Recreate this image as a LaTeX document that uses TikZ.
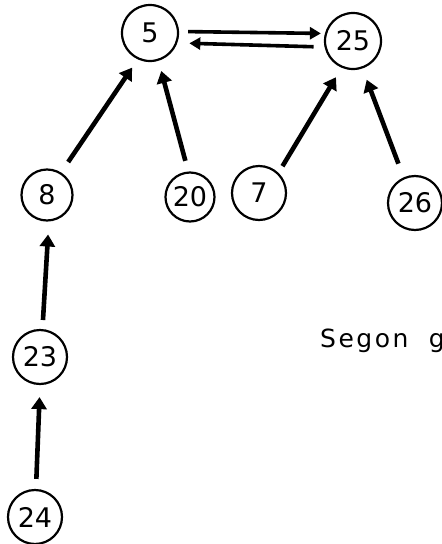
\documentclass[tikz,border=0pt]{standalone}
\usepackage{fontspec}
\setmainfont{DejaVu Sans}
\usetikzlibrary{arrows.meta}
\tikzset{
  vtx/.style={draw, circle, line width=2.2pt, inner sep=0pt, minimum size=#1, font=\fontsize{27}{27}\selectfont},
  arr/.style={line width=4.6pt, -{Triangle[width=15pt,length=12pt]}},
  arrs/.style={line width=3.6pt, -{Triangle[width=12pt,length=11pt]}},
  lbl/.style={anchor=base west, inner sep=0pt, font=\fontsize{25}{25}\selectfont\addfontfeature{LetterSpace=10}}
}
\begin{document}
\begin{tikzpicture}[x=1pt,y=-1pt]
\useasboundingbox (0,0) rectangle (442,544);
\node[vtx=56pt] (n5)  at (150,33)  {5};
\node[vtx=56pt] (n25) at (353,41)  {25};
\node[vtx=51pt] (n8)  at (47,195)  {8};
\node[vtx=49pt] (n20) at (190,197) {20};
\node[vtx=54pt] (n7)  at (259,193) {7};
\node[vtx=54pt] (n26) at (415,203) {26};
\node[vtx=54pt] (n23) at (40,357)  {23};
\node[vtx=54pt] (n24) at (35,517)  {24};
\node[lbl] (t) at (320,347) {Segon\ \hspace{10pt}g};
% connectors
\draw[arrs, shorten <=9pt, shorten >=4pt] (n5.3) -- (n25.165.5);
\draw[arrs, shorten <=11pt, shorten >=12pt] (n25.192.3) -- (n5.340.3);
\draw[arr, shorten <=12.6pt, shorten >=10pt] (n8.58.8) -- (n5.245.3);
\draw[arr, shorten <=11pt, shorten >=10.5pt] (n20.94.9) -- (n5.287.1);
\draw[arr, shorten <=7.7pt, shorten >=11pt] (n7.46.2) -- (n25.247.9);
\draw[arr, shorten <=14.6pt, shorten >=12pt] (n26.114.1) -- (n25.289.7);
\draw[arr, shorten <=9pt, shorten >=13pt] (n23.85.2) -- (n8.274.3);
\draw[arr, shorten <=10pt, shorten >=12pt] (n24.88.5) -- (n23.270);
\end{tikzpicture}
\end{document}
